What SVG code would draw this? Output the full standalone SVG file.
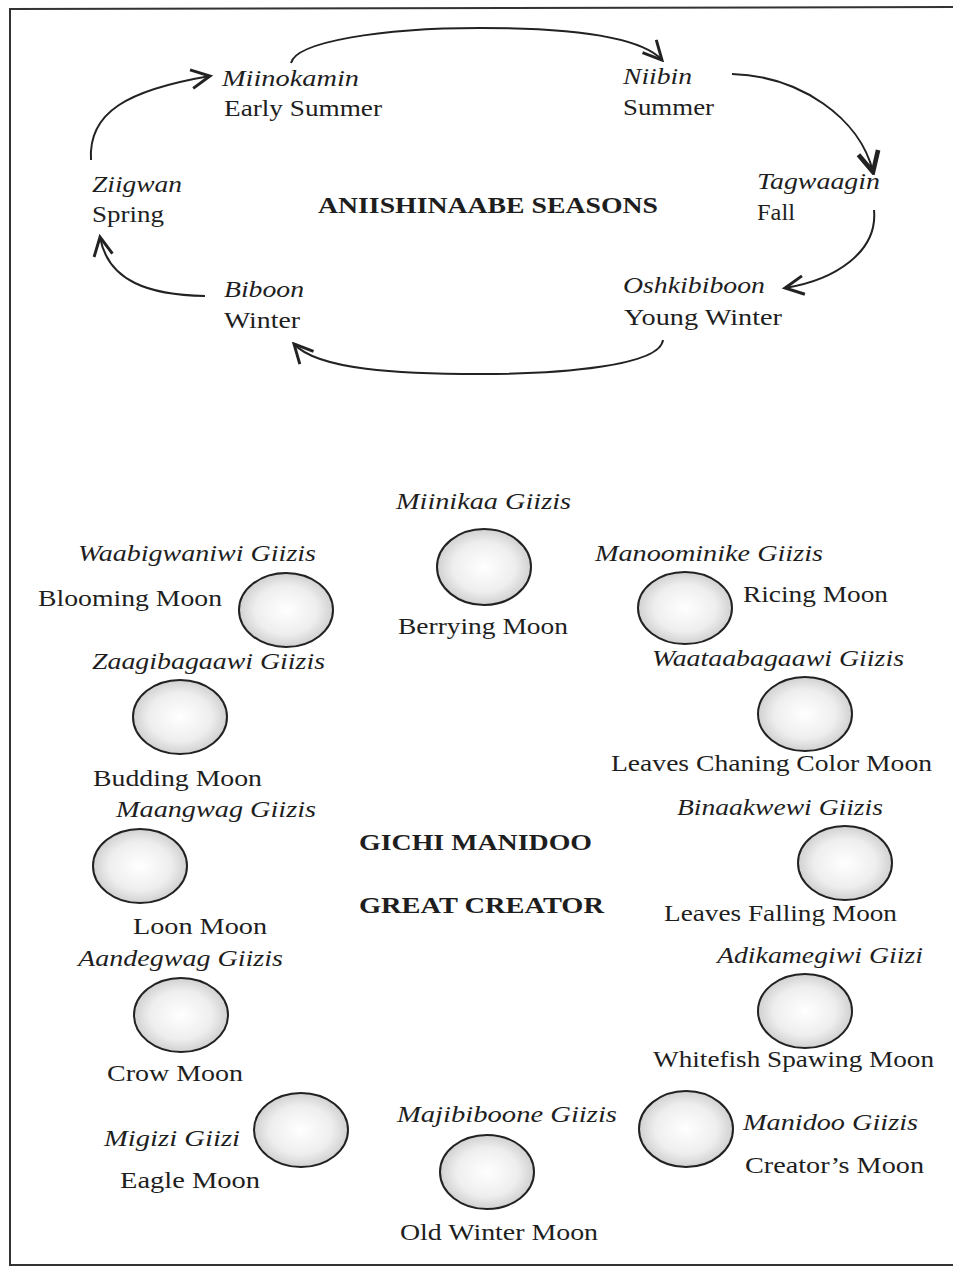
<svg xmlns="http://www.w3.org/2000/svg" width="953" height="1268" viewBox="0 0 953 1268">
<style>
text{font-family:"Liberation Serif","Times New Roman",serif;font-size:24px;fill:#1e1e1e}
.i{font-style:italic}
.b{font-weight:bold;font-size:23px}
.moon{fill:url(#mg);stroke:#222;stroke-width:2}
.arr{fill:none;stroke:#222;stroke-width:2;marker-end:url(#ah)}
.arr2{fill:none;stroke:#222;stroke-width:2;marker-end:url(#ah2)}
</style>
<defs>
<radialGradient id="mg" cx="0.5" cy="0.5" r="0.55">
<stop offset="0" stop-color="#ffffff"/>
<stop offset="0.6" stop-color="#eeeeee"/>
<stop offset="1" stop-color="#c8c8c8"/>
</radialGradient>
<marker id="ah" markerUnits="userSpaceOnUse" markerWidth="24" markerHeight="24" refX="16" refY="8" orient="auto" viewBox="0 0 18 16">
<path d="M2,1 L16,8 L2,15" fill="none" stroke="#222" stroke-width="2.2"/>
</marker>
<marker id="ah2" markerUnits="userSpaceOnUse" markerWidth="26" markerHeight="26" refX="16" refY="8" orient="auto" viewBox="0 0 18 16">
<path d="M2,1 L16,8 L2,15" fill="none" stroke="#222" stroke-width="3.2"/>
</marker>
</defs>
<rect x="0" y="0" width="953" height="1268" fill="#fff"/>
<g id="frame" fill="none" stroke="#333" stroke-width="2">
<path d="M10,1266 L10,9 L953,7"/>
<path d="M10,1265 L953,1265"/>
</g>
<g id="connectors">
<path class="arr" d="M291,63 C296,42 380,28 480,28 C570,28 640,36 662,60"/>
<path class="arr2" d="M732,74 C800,76 860,118 873,172"/>
<path class="arr" d="M874,210 C878,252 835,280 785,288"/>
<path class="arr" d="M663,340 C660,366 560,374 480,374 C400,374 318,370 294,344"/>
<path class="arr" d="M205,296 C150,295 108,282 100,237"/>
<path class="arr" d="M91,160 C88,112 128,90 210,76"/>
</g>
<g id="title"><text class="b" x="318" y="213" textLength="340" lengthAdjust="spacingAndGlyphs">ANIISHINAABE SEASONS</text></g>
<g id="s-miinokamin"><text class="i" x="222" y="86" textLength="137" lengthAdjust="spacingAndGlyphs">Miinokamin</text><text x="224" y="116" textLength="158" lengthAdjust="spacingAndGlyphs">Early Summer</text></g>
<g id="s-niibin"><text class="i" x="623" y="84" textLength="69" lengthAdjust="spacingAndGlyphs">Niibin</text><text x="623" y="115" textLength="91" lengthAdjust="spacingAndGlyphs">Summer</text></g>
<g id="s-tagwaagin"><text class="i" x="757" y="189" textLength="123" lengthAdjust="spacingAndGlyphs">Tagwaagin</text><text x="757" y="220" textLength="38" lengthAdjust="spacingAndGlyphs">Fall</text></g>
<g id="s-oshkibiboon"><text class="i" x="623" y="293" textLength="142" lengthAdjust="spacingAndGlyphs">Oshkibiboon</text><text x="624" y="325" textLength="158" lengthAdjust="spacingAndGlyphs">Young Winter</text></g>
<g id="s-biboon"><text class="i" x="224" y="297" textLength="80" lengthAdjust="spacingAndGlyphs">Biboon</text><text x="224" y="328" textLength="76" lengthAdjust="spacingAndGlyphs">Winter</text></g>
<g id="s-ziigwan"><text class="i" x="92" y="192" textLength="90" lengthAdjust="spacingAndGlyphs">Ziigwan</text><text x="92" y="222" textLength="72" lengthAdjust="spacingAndGlyphs">Spring</text></g>
<g id="center"><text class="b" x="359" y="850" textLength="233" lengthAdjust="spacingAndGlyphs">GICHI MANIDOO</text><text class="b" x="359" y="913" textLength="245" lengthAdjust="spacingAndGlyphs">GREAT CREATOR</text></g>
<g id="m-miinikaa"><ellipse class="moon" cx="484" cy="567" rx="47" ry="38"/><text class="i" x="396" y="509" textLength="175" lengthAdjust="spacingAndGlyphs">Miinikaa Giizis</text><text x="398" y="634" textLength="170" lengthAdjust="spacingAndGlyphs">Berrying Moon</text></g>
<g id="m-waabigwaniwi"><ellipse class="moon" cx="286" cy="610" rx="47" ry="37"/><text class="i" x="78" y="561" textLength="238" lengthAdjust="spacingAndGlyphs">Waabigwaniwi Giizis</text><text x="38" y="606" textLength="184" lengthAdjust="spacingAndGlyphs">Blooming Moon</text></g>
<g id="m-zaagibagaawi"><ellipse class="moon" cx="180" cy="717" rx="47" ry="37"/><text class="i" x="92" y="669" textLength="233" lengthAdjust="spacingAndGlyphs">Zaagibagaawi Giizis</text><text x="93" y="786" textLength="169" lengthAdjust="spacingAndGlyphs">Budding Moon</text></g>
<g id="m-maangwag"><ellipse class="moon" cx="140" cy="866" rx="47" ry="37"/><text class="i" x="116" y="817" textLength="200" lengthAdjust="spacingAndGlyphs">Maangwag Giizis</text><text x="133" y="934" textLength="134" lengthAdjust="spacingAndGlyphs">Loon Moon</text></g>
<g id="m-aandegwag"><ellipse class="moon" cx="181" cy="1015" rx="47" ry="37"/><text class="i" x="78" y="966" textLength="205" lengthAdjust="spacingAndGlyphs">Aandegwag Giizis</text><text x="107" y="1081" textLength="136" lengthAdjust="spacingAndGlyphs">Crow Moon</text></g>
<g id="m-migizi"><ellipse class="moon" cx="301" cy="1130" rx="47" ry="37"/><text class="i" x="104" y="1146" textLength="136" lengthAdjust="spacingAndGlyphs">Migizi Giizi</text><text x="120" y="1188" textLength="140" lengthAdjust="spacingAndGlyphs">Eagle Moon</text></g>
<g id="m-majibiboone"><ellipse class="moon" cx="487" cy="1172" rx="47" ry="37"/><text class="i" x="397" y="1122" textLength="220" lengthAdjust="spacingAndGlyphs">Majibiboone Giizis</text><text x="400" y="1240" textLength="198" lengthAdjust="spacingAndGlyphs">Old Winter Moon</text></g>
<g id="m-manidoo"><ellipse class="moon" cx="686" cy="1129" rx="47" ry="38"/><text class="i" x="743" y="1130" textLength="175" lengthAdjust="spacingAndGlyphs">Manidoo Giizis</text><text x="745" y="1173" textLength="179" lengthAdjust="spacingAndGlyphs">Creator’s Moon</text></g>
<g id="m-adikamegiwi"><ellipse class="moon" cx="805" cy="1011" rx="47" ry="37"/><text class="i" x="717" y="963" textLength="206" lengthAdjust="spacingAndGlyphs">Adikamegiwi Giizi</text><text x="653" y="1067" textLength="281" lengthAdjust="spacingAndGlyphs">Whitefish Spawing Moon</text></g>
<g id="m-binaakwewi"><ellipse class="moon" cx="845" cy="863" rx="47" ry="37"/><text class="i" x="677" y="815" textLength="206" lengthAdjust="spacingAndGlyphs">Binaakwewi Giizis</text><text x="664" y="921" textLength="233" lengthAdjust="spacingAndGlyphs">Leaves Falling Moon</text></g>
<g id="m-waataabagaawi"><ellipse class="moon" cx="805" cy="714" rx="47" ry="37"/><text class="i" x="652" y="666" textLength="252" lengthAdjust="spacingAndGlyphs">Waataabagaawi Giizis</text><text x="611" y="771" textLength="321" lengthAdjust="spacingAndGlyphs">Leaves Chaning Color Moon</text></g>
<g id="m-manoominike"><ellipse class="moon" cx="685" cy="608" rx="47" ry="36"/><text class="i" x="595" y="561" textLength="228" lengthAdjust="spacingAndGlyphs">Manoominike Giizis</text><text x="743" y="602" textLength="145" lengthAdjust="spacingAndGlyphs">Ricing Moon</text></g>
</svg>
